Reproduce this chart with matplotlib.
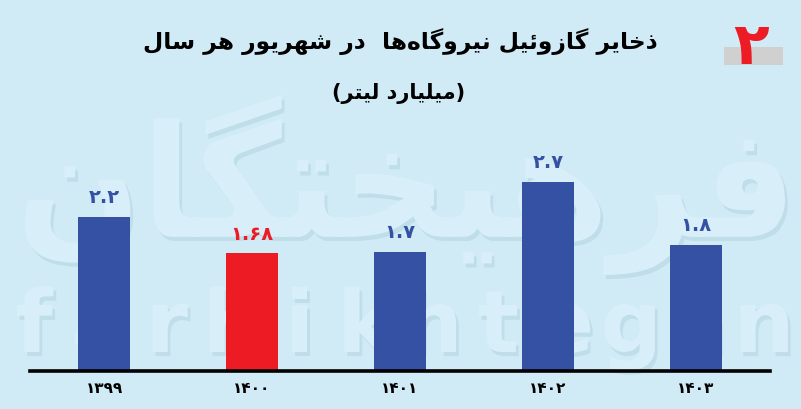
import matplotlib
matplotlib.use('Agg')
import matplotlib.pyplot as plt
import matplotlib.patheffects as pe
from matplotlib.textpath import TextPath
from matplotlib.font_manager import FontProperties
from matplotlib.patches import PathPatch, Rectangle
from matplotlib.transforms import Affine2D
import numpy as np

years = [1399, 1400, 1401, 1402, 1403]
values = [2.2, 1.68, 1.7, 2.7, 1.8]
highlight = 1400

title = 'ذخایر گازوئیل نیروگاه\u200cها  در شهریور هر سال'
subtitle = '(میلیارد لیتر)'
badge = '۲'

BG = '#d0ebf6'
BLUE = '#3551a3'
RED = '#ed1c24'

# arabic presentation forms: isolated, final, initial, medial
FORMS = {
    'ا': ('\uFE8D', '\uFE8E', None, None),
    'ت': ('\uFE95', '\uFE96', '\uFE97', '\uFE98'),
    'خ': ('\uFEA5', '\uFEA6', '\uFEA7', '\uFEA8'),
    'د': ('\uFEA9', '\uFEAA', None, None),
    'ذ': ('\uFEAB', '\uFEAC', None, None),
    'ر': ('\uFEAD', '\uFEAE', None, None),
    'ز': ('\uFEAF', '\uFEB0', None, None),
    'س': ('\uFEB1', '\uFEB2', '\uFEB3', '\uFEB4'),
    'ش': ('\uFEB5', '\uFEB6', '\uFEB7', '\uFEB8'),
    'ف': ('\uFED1', '\uFED2', '\uFED3', '\uFED4'),
    'ل': ('\uFEDD', '\uFEDE', '\uFEDF', '\uFEE0'),
    'م': ('\uFEE1', '\uFEE2', '\uFEE3', '\uFEE4'),
    'ن': ('\uFEE5', '\uFEE6', '\uFEE7', '\uFEE8'),
    'ه': ('\uFEE9', '\uFEEA', '\uFEEB', '\uFEEC'),
    'و': ('\uFEED', '\uFEEE', None, None),
    'ئ': ('\uFE89', '\uFE8A', '\uFE8B', '\uFE8C'),
    'ی': ('\uFBFC', '\uFBFD', '\uFBFE', '\uFBFF'),
    'گ': ('\uFB92', '\uFB93', '\uFB94', '\uFB95'),
}


def shape(text):
    out = []
    for i, c in enumerate(text):
        if c not in FORMS:
            out.append(c)
            continue
        prev = text[i-1] if i > 0 else None
        nxt = text[i+1] if i+1 < len(text) else None
        jp = prev in FORMS and FORMS[prev][2] is not None
        jn = nxt in FORMS and FORMS[c][2] is not None
        iso, fin, ini, med = FORMS[c]
        if jp and jn:
            out.append(med)
        elif jp:
            out.append(fin)
        elif jn:
            out.append(ini)
        else:
            out.append(iso)
    s = ''.join(out).replace('\u200c', '')[::-1]
    return s.translate(str.maketrans('()', ')('))


def fa_digits(x):
    return str(x).translate(str.maketrans('0123456789', '۰۱۲۳۴۵۶۷۸۹'))


fig = plt.figure(figsize=(8.01, 4.09), dpi=100, facecolor=BG)

# background layer with watermark
bg = fig.add_axes([0, 0, 1, 1], zorder=0)
bg.set_xlim(0, 801)
bg.set_ylim(409, 0)
bg.axis('off')

wm_fx = [pe.SimplePatchShadow(offset=(2, -3), shadow_rgbFace='#8fb8ca', alpha=0.25), pe.Normal()]


def fit_path(s, box, prop):
    p = TextPath((0, 0), s, size=1, prop=prop)
    ext = p.get_extents()
    x0, y0, x1, y1 = box
    tr = (Affine2D().translate(-ext.x0, -ext.y0)
          .scale((x1 - x0) / ext.width, -(y1 - y0) / ext.height)
          .translate(x0, y1))
    return tr.transform_path(p)


fp_bold = FontProperties(family='DejaVu Sans', weight='bold')
p = fit_path(shape('فرهیختگان'), (25, 95, 785, 275), fp_bold)
bg.add_patch(PathPatch(p, facecolor='#d8eff9', edgecolor='none', path_effects=wm_fx))

latin = 'farhikhtegan'
xs = np.linspace(34, 764, len(latin))
for ch, xc in zip(latin, xs):
    t = bg.text(xc, 352, ch, fontsize=62, fontweight='bold', ha='center', va='baseline',
                color='#d8eff9', family='DejaVu Sans')
    t.set_path_effects([pe.withSimplePatchShadow(offset=(2, -3), shadow_rgbFace='#8fb8ca', alpha=0.25)])

# badge
bg.add_patch(Rectangle((724, 47), 59, 18, facecolor='#d0d0d0', edgecolor='none'))
bg.text(751, 47, badge, fontsize=42, fontweight='bold', color=RED,
        ha='center', va='center', family='DejaVu Sans')

# titles
fig.text(0.5, 1 - 42 / 409, shape(title), fontsize=16.8, fontweight='bold',
         ha='center', va='center', family='DejaVu Sans')
fig.text(0.498, 1 - 93 / 409, shape(subtitle), fontsize=15, fontweight='bold',
         ha='center', va='center', family='DejaVu Sans')

# main chart
ax = fig.add_axes([30 / 801, 38 / 409, 740 / 801, 270 / 409], zorder=1)
ax.patch.set_alpha(0)
x = np.arange(len(years))
colors = [RED if y == highlight else BLUE for y in years]
bars = ax.bar(x, values, width=0.345, color=colors, zorder=2)
for xi, v, c in zip(x, values, colors):
    ax.annotate(fa_digits(v), (xi, v), xytext=(0, 7), textcoords='offset points',
                ha='center', va='bottom', fontsize=14, fontweight='bold', color=c,
                family='DejaVu Sans')

ax.set_xlim(-0.5, len(years) - 0.5)
ax.set_ylim(0, 270 / 70)
ax.set_xticks(x)
ax.set_xticklabels([fa_digits(y) for y in years], fontsize=11, fontweight='bold',
                   family='DejaVu Sans')
ax.tick_params(axis='x', length=0, pad=7)
ax.set_yticks([])
for s in ['left', 'right', 'top']:
    ax.spines[s].set_visible(False)
ax.spines['bottom'].set_linewidth(2.6)
ax.spines['bottom'].set_color('black')

fig.savefig('out.png', dpi=100, facecolor=BG)
